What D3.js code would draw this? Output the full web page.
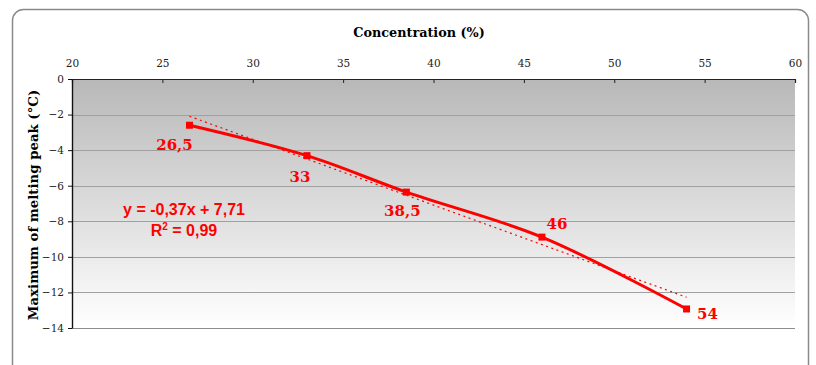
<!DOCTYPE html>
<html>
<head>
<meta charset="utf-8">
<script src="https://cdn.jsdelivr.net/npm/d3@7"></script>
<style>
  html, body { margin: 0; padding: 0; background: #ffffff; }
  svg { display: block; }
</style>
</head>
<body>
<svg id="chart" width="816" height="365"></svg>
<script>
// ---- data ----
const concentrations = [26.5, 33, 38.5, 46, 54];
const meltingPeak = [-2.60, -4.31, -6.36, -8.89, -12.93];
const pointLabels = ["26,5", "33", "38,5", "46", "54"];
const xTicks = [20, 25, 30, 35, 40, 45, 50, 55, 60];
const yTicks = [0, -2, -4, -6, -8, -10, -12, -14];
const trendSlope = -0.37;
const trendIntercept = 7.71;
const equationText = "y = -0,37x + 7,71";
const r2Value = "0,99";
const xTitle = "Concentration (%)";
const yTitle = "Maximum of melting peak (°C)";

// ---- layout / style ----
const labelOffsets = [[-15, 25], [-7, 26], [-4, 24], [15, -8], [21, 10]]; // label centre offsets from point (px)
const plot = { left: 72, right: 795, top: 79, bottom: 328 };
const red = "#ff0000";
const serif = "'DejaVu Serif', 'Liberation Serif', serif";
const sans = "'Liberation Sans', Arial, sans-serif";

const svg = d3.select("#chart");

// outer rounded border
svg.append("rect")
  .attr("x", 12.5).attr("y", 9.5)
  .attr("width", 796).attr("height", 380)
  .attr("rx", 11).attr("ry", 11)
  .attr("fill", "#ffffff")
  .attr("stroke", "#8a8a8a").attr("stroke-width", 1.5);

const x = d3.scaleLinear().domain([20, 60]).range([plot.left, plot.right]);
const y = d3.scaleLinear().domain([0, -14]).range([plot.top, plot.bottom]);

// gradient plot background
const defs = svg.append("defs");
const grad = defs.append("linearGradient").attr("id", "bg")
  .attr("x1", 0).attr("y1", 0).attr("x2", 0).attr("y2", 1);
grad.append("stop").attr("offset", "0%").attr("stop-color", "#b8b8b8");
grad.append("stop").attr("offset", "100%").attr("stop-color", "#ffffff");

svg.append("rect")
  .attr("x", plot.left).attr("y", plot.top)
  .attr("width", plot.right - plot.left).attr("height", plot.bottom - plot.top)
  .attr("fill", "url(#bg)");

// gridlines
svg.append("g").selectAll("line")
  .data(yTicks.filter(d => d !== 0))
  .join("line")
  .attr("x1", plot.left).attr("x2", plot.right)
  .attr("y1", d => Math.round(y(d)) + 0.5).attr("y2", d => Math.round(y(d)) + 0.5)
  .attr("stroke", d => d === -14 ? "#8c8c8c" : "#a0a0a0")
  .attr("stroke-width", 1);

// top x axis
const xAxis = d3.axisTop(x).tickValues(xTicks).tickSizeInner(-4).tickSizeOuter(-4).tickPadding(12);
const gx = svg.append("g").attr("transform", `translate(0,${plot.top})`).call(xAxis);
gx.select(".domain").attr("stroke", "#222").attr("stroke-width", 1.2);
gx.selectAll(".tick line").attr("stroke", "#222");
gx.selectAll("text").attr("font-family", serif).attr("font-size", 10.5).attr("fill", "#222");

// left y axis
const yAxis = d3.axisLeft(y).tickValues(yTicks).tickSizeInner(4).tickSizeOuter(0).tickPadding(4);
const gy = svg.append("g").attr("transform", `translate(${plot.left},0)`).call(yAxis);
gy.select(".domain").attr("stroke", "#111").attr("stroke-width", 1.4);
gy.selectAll(".tick line").attr("stroke", "#111");
gy.selectAll("text").attr("font-family", serif).attr("font-size", 10.5).attr("fill", "#222");

// axis titles
svg.append("text")
  .attr("x", 419).attr("y", 37)
  .attr("text-anchor", "middle")
  .attr("font-family", serif).attr("font-weight", "bold").attr("font-size", 12.8)
  .attr("fill", "#000")
  .text(xTitle);

svg.append("text")
  .attr("transform", "translate(38,205) rotate(-90)")
  .attr("text-anchor", "middle")
  .attr("font-family", serif).attr("font-weight", "bold").attr("font-size", 13.3)
  .attr("fill", "#000")
  .text(yTitle);

// data
const pts = concentrations.map((c, i) => ({ c, v: meltingPeak[i], label: pointLabels[i], off: labelOffsets[i] }));

// trend line (dotted)
const cMin = d3.min(concentrations), cMax = d3.max(concentrations);
svg.append("line")
  .attr("x1", x(cMin)).attr("y1", y(trendSlope * cMin + trendIntercept))
  .attr("x2", x(cMax)).attr("y2", y(trendSlope * cMax + trendIntercept))
  .attr("stroke", red).attr("stroke-width", 1.2)
  .attr("stroke-dasharray", "2,3.5");

// smoothed series line
const line = d3.line().x(d => x(d.c)).y(d => y(d.v)).curve(d3.curveCatmullRom.alpha(0.5));
svg.append("path")
  .datum(pts)
  .attr("d", line)
  .attr("fill", "none")
  .attr("stroke", red).attr("stroke-width", 3)
  .attr("stroke-linejoin", "round");

// markers
svg.append("g").selectAll("rect")
  .data(pts)
  .join("rect")
  .attr("x", d => x(d.c) - 3.5).attr("y", d => y(d.v) - 3.5)
  .attr("width", 7).attr("height", 7)
  .attr("fill", red);

// data labels
svg.append("g").selectAll("text")
  .data(pts)
  .join("text")
  .attr("x", d => x(d.c) + d.off[0])
  .attr("y", d => y(d.v) + d.off[1])
  .attr("text-anchor", "middle")
  .attr("font-family", serif).attr("font-weight", "bold").attr("font-size", 15)
  .attr("fill", red)
  .text(d => d.label);

// equation text
svg.append("text")
  .attr("x", 184).attr("y", 215)
  .attr("text-anchor", "middle")
  .attr("font-family", sans).attr("font-weight", "bold").attr("font-size", 16)
  .attr("fill", red)
  .text(equationText);

const r2 = svg.append("text")
  .attr("x", 184).attr("y", 236)
  .attr("text-anchor", "middle")
  .attr("font-family", sans).attr("font-weight", "bold").attr("font-size", 16)
  .attr("fill", red);
r2.append("tspan").text("R");
r2.append("tspan").attr("dy", -6).attr("font-size", 10).text("2");
r2.append("tspan").attr("dy", 6).text(" = " + r2Value);
</script>
</body>
</html>
